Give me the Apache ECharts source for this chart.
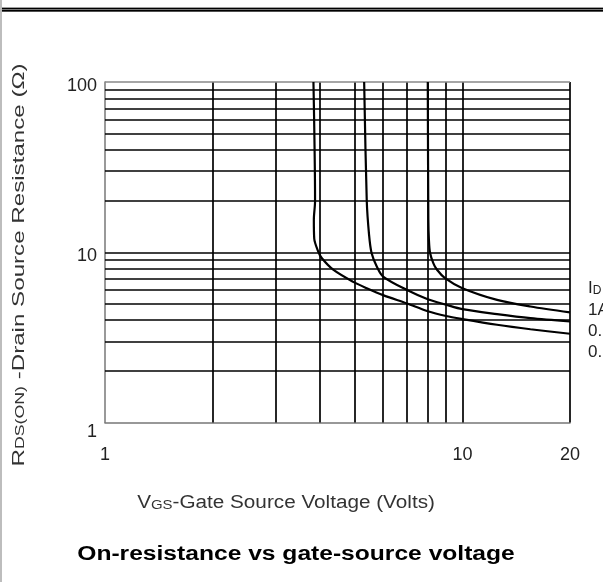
<!DOCTYPE html>
<html>
<head>
<meta charset="utf-8">
<script src="https://cdn.jsdelivr.net/npm/echarts@6/dist/echarts.min.js"></script>
<style>
  html, body { margin: 0; padding: 0; background: #fff; }
  #chart { width: 603px; height: 582px; }
</style>
</head>
<body>
<div id="chart"></div>
<script>
// grid lines (log-log paper)
const vgsGrid = [2, 3, 4, 5, 6, 7, 8, 9, 10, 20]
const rdsGrid = [2, 3, 4, 5, 6, 7, 8, 9, 10, 20, 30, 40, 50, 60, 70, 80, 90, 100]

// curves: VGS (V) vs RDS(on) (ohm)
const curve1Vgs = [3.83, 3.87, 3.84, 3.85, 3.95, 4.04, 4.35, 4.95, 5.4, 6.0, 7.0, 8.0, 9.0, 10, 12.5, 15.5, 20]
const curve1Rds = [100, 20, 15.5, 12, 10.1, 9.25, 7.9, 6.7, 6.15, 5.6, 5.0, 4.5, 4.22, 4.05, 3.75, 3.53, 3.32]
const curve2Vgs = [5.31, 5.40, 5.48, 5.57, 5.76, 6.0, 7.0, 8.0, 9.0, 10, 12.5, 15.5, 20]
const curve2Rds = [100, 20, 12.7, 9.9, 8.25, 7.2, 6.0, 5.3, 4.92, 4.63, 4.33, 4.1, 3.92]
const curve3Vgs = [8.0, 8.03, 8.06, 8.12, 8.29, 8.49, 8.94, 10, 12.5, 15.5, 20]
const curve3Rds = [100, 15.5, 11.8, 9.9, 8.64, 7.89, 7.05, 6.15, 5.25, 4.8, 4.43]

const idLabels = ['1A', '0.5A', '0.1A']

const FONT = 'Liberation Sans, Arial, sans-serif'

function pairs(xs, ys) {
  return xs.map((x, i) => [x, ys[i]])
}

function curve(xs, ys) {
  return {
    type: 'line',
    data: pairs(xs, ys),
    smooth: 0.3,
    symbol: 'none',
    z: 5,
    silent: true,
    lineStyle: { color: '#000', width: 2.2 }
  }
}

const gridLines = []
vgsGrid.forEach(v => gridLines.push({ xAxis: v }))
rdsGrid.forEach(v => {
  if (v === 100) {
    gridLines.push({ yAxis: v, lineStyle: { color: '#888' } })
  } else {
    gridLines.push({ yAxis: v })
  }
})

const chart = echarts.init(document.getElementById('chart'))

const legendTexts = [{
  type: 'text',
  x: 588,
  y: 288,
  style: {
    text: '{a|I}{b|D}',
    fill: '#222',
    align: 'left',
    verticalAlign: 'middle',
    rich: {
      a: { fontSize: 17, fontFamily: FONT, lineHeight: 17, verticalAlign: 'bottom', fill: '#222' },
      b: { fontSize: 12, fontFamily: FONT, lineHeight: 12, verticalAlign: 'bottom', fill: '#222' }
    }
  }
}]
idLabels.forEach((t, i) => {
  legendTexts.push({
    type: 'text',
    x: 588,
    y: 310 + i * 21,
    style: {
      text: t,
      fill: '#222',
      font: '17px ' + FONT,
      align: 'left',
      verticalAlign: 'middle'
    }
  })
})

chart.setOption({
  animation: false,
  backgroundColor: '#fff',
  grid: {
    left: 105,
    right: 33,
    top: 82,
    bottom: 159.5
  },
  xAxis: {
    type: 'log',
    logBase: 10,
    min: 1,
    max: 20,
    axisLine: { show: true, lineStyle: { color: '#777', width: 1.5 } },
    axisTick: { show: false },
    splitLine: { show: false },
    axisLabel: {
      fontSize: 18,
      fontFamily: FONT,
      color: '#222',
      margin: 24
    }
  },
  yAxis: {
    type: 'log',
    logBase: 10,
    min: 1,
    max: 100,
    axisLine: { show: true, lineStyle: { color: '#777', width: 1.5 } },
    axisTick: { show: false },
    splitLine: { show: false },
    axisLabel: {
      fontSize: 18,
      fontFamily: FONT,
      color: '#222',
      margin: 8,
      formatter: function (v) {
        return v === 1 ? '{lo|1}' : '{n|' + v + '}'
      },
      rich: {
        n: { fontSize: 18, fontFamily: FONT, color: '#222', padding: [8, 0, 0, 0] },
        lo: { fontSize: 18, fontFamily: FONT, color: '#222', padding: [20, 0, 0, 0] }
      }
    }
  },
  series: [
    {
      type: 'line',
      data: [],
      silent: true,
      z: 2,
      markLine: {
        symbol: 'none',
        silent: true,
        animation: false,
        label: { show: false },
        lineStyle: { color: '#000', width: 1.7, type: 'solid' },
        data: gridLines
      }
    },
    curve(curve1Vgs, curve1Rds),
    curve(curve2Vgs, curve2Rds),
    curve(curve3Vgs, curve3Rds)
  ],
  graphic: [
    {
      type: 'rect',
      shape: { x: 0, y: 0, width: 2, height: 582 },
      style: { fill: '#bdbdbd' }
    },
    {
      type: 'rect',
      shape: { x: 2, y: 7, width: 601, height: 5 },
      style: { fill: '#a0a0a0' }
    },
    {
      type: 'rect',
      shape: { x: 2, y: 8, width: 601, height: 1.3 },
      style: { fill: '#000' }
    },
    {
      type: 'rect',
      shape: { x: 2, y: 10, width: 601, height: 1.5 },
      style: { fill: '#000' }
    },
    {
      // y axis name
      type: 'text',
      x: 19,
      y: 265,
      rotation: Math.PI / 2,
      scaleX: 1.42,
      style: {
        text: '{a|R}{b|DS(ON)}{a| -Drain Source Resistance (Ω)}',
        align: 'center',
        verticalAlign: 'middle',
        rich: {
          a: { fontSize: 17, fontFamily: FONT, lineHeight: 17, verticalAlign: 'bottom', fill: '#333' },
          b: { fontSize: 12.5, fontFamily: FONT, lineHeight: 12.5, verticalAlign: 'bottom', fill: '#333' }
        }
      }
    },
    {
      // x axis name
      type: 'text',
      x: 286,
      y: 503,
      scaleX: 1.15,
      style: {
        text: '{a|V}{b|GS}{a|-Gate Source Voltage (Volts)}',
        align: 'center',
        verticalAlign: 'middle',
        rich: {
          a: { fontSize: 18, fontFamily: FONT, lineHeight: 18, verticalAlign: 'bottom', fill: '#333' },
          b: { fontSize: 13, fontFamily: FONT, lineHeight: 13, verticalAlign: 'bottom', fill: '#333' }
        }
      }
    },
    {
      // title
      type: 'text',
      x: 296,
      y: 554,
      scaleX: 1.23,
      style: {
        text: 'On-resistance vs gate-source voltage',
        font: 'bold 20px ' + FONT,
        fill: '#000',
        align: 'center',
        verticalAlign: 'middle'
      }
    }
  ].concat(legendTexts)
})
</script>
</body>
</html>
